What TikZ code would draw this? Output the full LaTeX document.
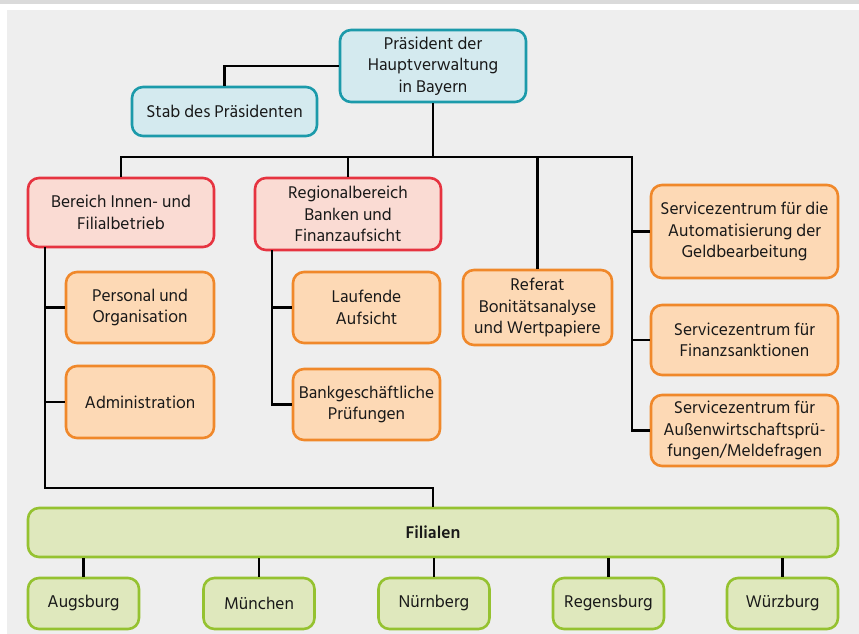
\documentclass[tikz,border=0pt]{standalone}
\usepackage{fontspec}
\setmainfont{Hind Siliguri}
\definecolor{bgc}{HTML}{EEEEEE}
\definecolor{bandc}{HTML}{DADADA}
\definecolor{bluef}{HTML}{D4EAEF}
\definecolor{bluel}{HTML}{1B9AAA}
\definecolor{redf}{HTML}{FADBD3}
\definecolor{redl}{HTML}{E63340}
\definecolor{orf}{HTML}{FDD9B5}
\definecolor{orl}{HTML}{F0882A}
\definecolor{grf}{HTML}{DFE8BD}
\definecolor{grl}{HTML}{95C230}
\begin{document}
\begin{tikzpicture}[x=1bp,y=-1bp,
  box/.style={draw,rounded corners=11bp,line width=2.6bp,align=center,inner sep=0pt,
    font=\fontsize{17.5}{21.5}\selectfont,text=black!90},
  bluebox/.style={box,fill=bluef,draw=bluel},
  redbox/.style={box,fill=redf,draw=redl},
  orbox/.style={box,fill=orf,draw=orl},
  grbox/.style={box,fill=grf,draw=grl},
  conn/.style={line width=2.5bp,black}]
\useasboundingbox (0,0) rectangle (859,634);
\fill[white] (0,0) rectangle (859,634);
\fill[bandc] (0,0) rectangle (859,4.5);
\fill[bgc] (7,10) rectangle (859,634);

\node[bluebox,minimum width=186bp,minimum height=72bp] (pres) at (433,66) {Präsident der\\Hauptverwaltung\\in Bayern};
\node[bluebox,minimum width=185bp,minimum height=49bp] (stab) at (224.5,111.5) {Stab des Präsidenten};
\node[redbox,minimum width=186bp,minimum height=69bp] (innen) at (121,212.5) {Bereich Innen- und\\Filialbetrieb};
\node[redbox,minimum width=186bp,minimum height=72bp] (regio) at (348,214) {Regionalbereich\\Banken und\\Finanzaufsicht};
\node[orbox,minimum width=148bp,minimum height=71bp] (pers) at (140,307.5) {Personal und\\Organisation};
\node[orbox,minimum width=148bp,minimum height=72bp] (admin) at (140,402) {Administration};
\node[orbox,minimum width=147bp,minimum height=71bp] (lauf) at (366.5,307.5) {Laufende\\Aufsicht};
\node[orbox,minimum width=147bp,minimum height=71bp] (bank) at (366.5,404.5) {Bankgeschäftliche\\Prüfungen};
\node[orbox,minimum width=149bp,minimum height=75bp] (ref) at (537.5,307.5) {Referat\\Bonitätsanalyse\\und Wertpapiere};
\node[orbox,minimum width=187bp,minimum height=93bp] (s1) at (744.5,231.5) {Servicezentrum für die\\Automatisierung der\\Geldbearbeitung};
\node[orbox,minimum width=187bp,minimum height=70bp] (s2) at (744.5,340) {Servicezentrum für\\Finanzsanktionen};
\node[orbox,minimum width=187bp,minimum height=71bp] (s3) at (744.5,430.5) {Servicezentrum für\\Außenwirtschaftsprü-\\fungen/Meldefragen};
\node[grbox,minimum width=810bp,minimum height=49bp] (fil) at (433,532.5) {\bfseries Filialen};
\node[grbox,minimum width=111bp,minimum height=51bp] (c1) at (83.5,603.5) {Augsburg};
\node[grbox,minimum width=111bp,minimum height=51bp] (c2) at (259,603.5) {München};
\node[grbox,minimum width=111bp,minimum height=51bp] (c3) at (434,603.5) {Nürnberg};
\node[grbox,minimum width=111bp,minimum height=51bp] (c4) at (608.5,603.5) {Regensburg};
\node[grbox,minimum width=111bp,minimum height=51bp] (c5) at (782.5,603.5) {Würzburg};

\coordinate (bus) at (433,157);
\coordinate (rx) at (632,157);
\coordinate (ltop) at (45,247);
\coordinate (lbot) at (45,488);
\coordinate (mtop) at (272,250);

\draw[conn] (pres.west) -| (stab.north);
\draw[conn] (pres.south) -- (bus);
\draw[conn] (innen.north) |- (bus);
\draw[conn] (regio.north) -- (regio.north |- bus);
\draw[conn] (ref.north) -- (ref.north |- bus);
\draw[conn] (bus) -- (rx) |- (s3.west);
\draw[conn] (rx |- s1.west) -- (s1.west);
\draw[conn] (rx |- s2.west) -- (s2.west);
\draw[conn] (ltop) -- (lbot) -| (fil.north);
\draw[conn] (ltop |- pers.west) -- (pers.west);
\draw[conn] (ltop |- admin.west) -- (admin.west);
\draw[conn] (mtop) |- (bank.west);
\draw[conn] (mtop |- lauf.west) -- (lauf.west);
\foreach \c in {c1,c2,c3,c4,c5}{\draw[conn] (\c.north) -- (\c.north |- fil.south);}
\end{tikzpicture}
\end{document}
